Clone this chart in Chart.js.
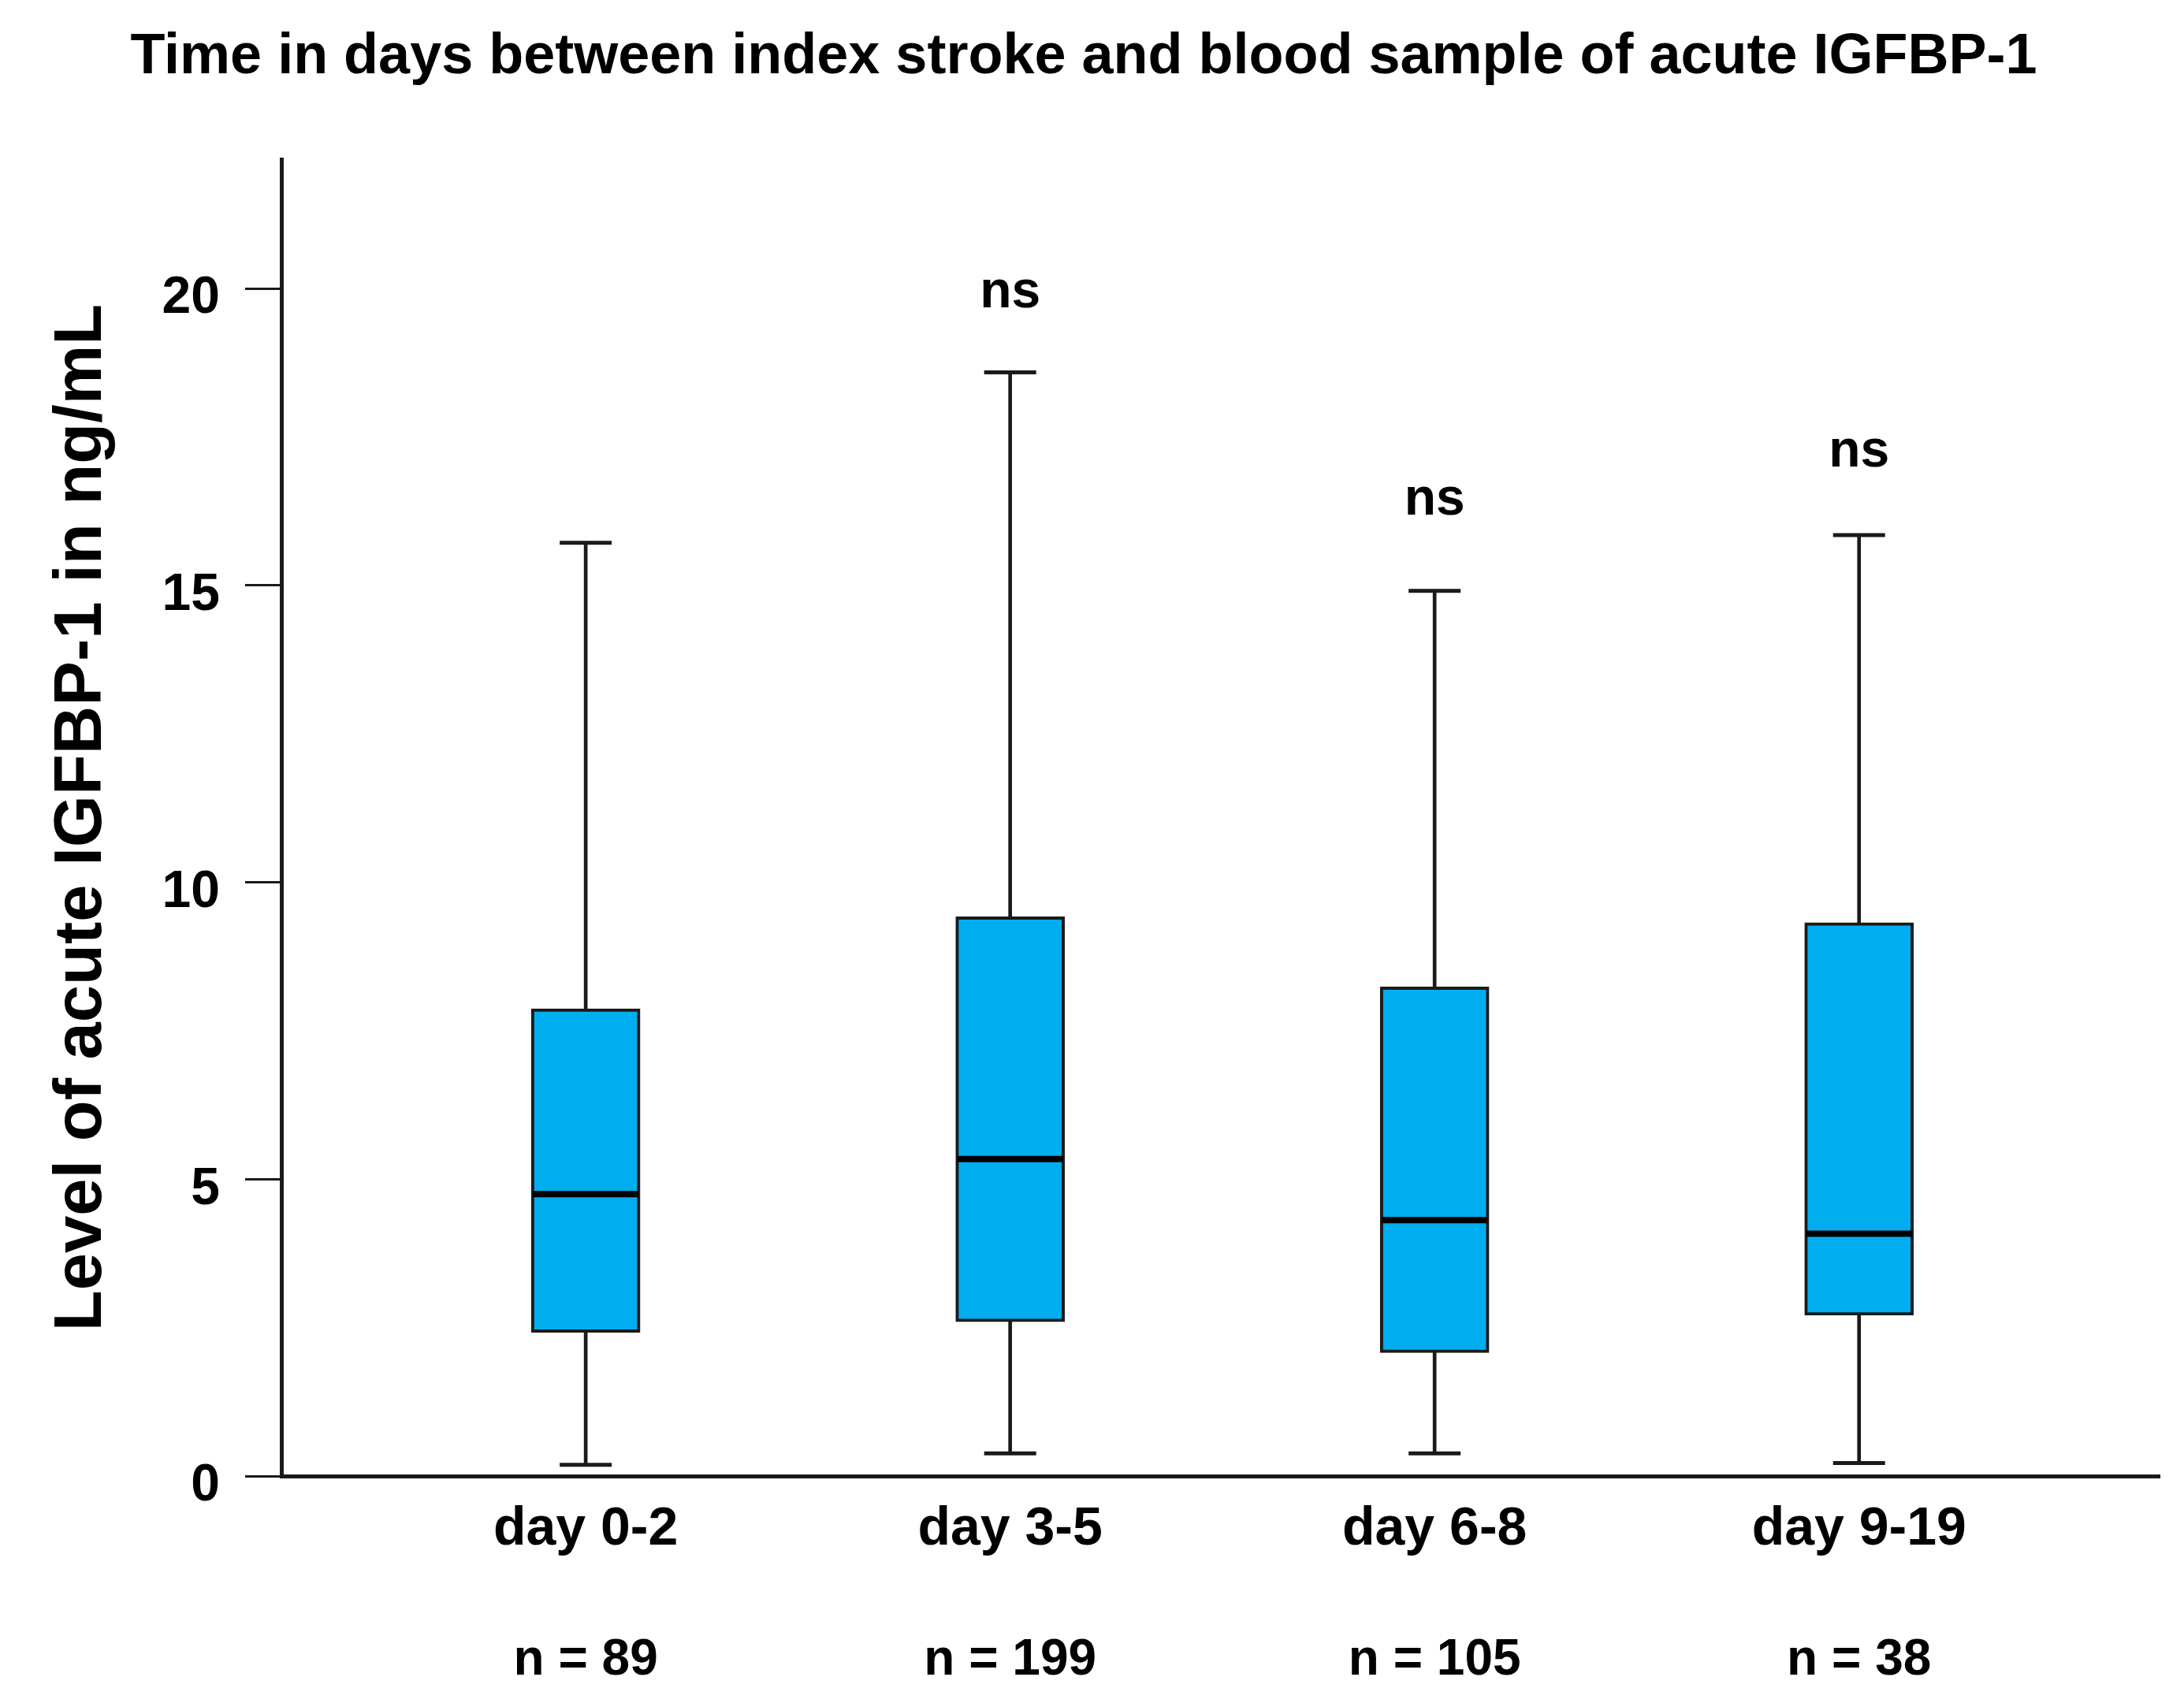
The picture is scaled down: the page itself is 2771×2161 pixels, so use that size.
<!DOCTYPE html>
<html>
<head>
<meta charset="utf-8">
<script src="https://cdn.jsdelivr.net/npm/chart.js@4.4.1/dist/chart.umd.min.js"></script>
<style>
  html, body { margin: 0; padding: 0; background: #ffffff; }
  #wrap { width: 2771px; height: 2161px; position: relative; }
</style>
</head>
<body>
<div id="wrap"><canvas id="c" width="2771" height="2161"></canvas></div>
<script>
// ---------- data ----------
const categories  = ['day 0-2', 'day 3-5', 'day 6-8', 'day 9-19'];
const sampleSizes = ['n = 89', 'n = 199', 'n = 105', 'n = 38'];
const whiskerLow  = [0.19, 0.38, 0.38, 0.22];
const q1          = [2.42, 2.60, 2.08, 2.71];
const medians     = [4.75, 5.34, 4.31, 4.08];
const q3          = [7.87, 9.42, 8.24, 9.32];
const whiskerHigh = [15.72, 18.59, 14.91, 15.85];
const nsLabels    = ['', 'ns', 'ns', 'ns'];
const nsLevels    = [null, 19.68, 16.2, 17.0];
const yTicks      = [0, 5, 10, 15, 20];
const titleText   = 'Time in days between index stroke and blood sample of acute IGFBP-1';
const yTitleText  = 'Level of acute IGFBP-1 in ng/mL';

// ---------- styling ----------
const FAM = '"Liberation Sans", Arial, Helvetica, sans-serif';
const BOX_FILL = '#00AEEF';
const INK = '#1a1a1a';

function hasFont(name) {
  const c = document.createElement('canvas').getContext('2d');
  c.font = '70px monospace';
  const a = c.measureText('nsmwNSMW').width;
  c.font = '70px "' + name + '", monospace';
  const b = c.measureText('nsmwNSMW').width;
  return Math.abs(a - b) > 0.5;
}
const narrowOK = hasFont('Liberation Sans Narrow');
const NS_FONT = narrowOK ? 'bold 72px "Liberation Sans Narrow", sans-serif' : 'bold 66px ' + FAM;

const xy = (arr) => arr.map((v, i) => ({ x: i, y: v }));
const xyRange = (a, b) => a.map((v, i) => ({ x: i, y: [v, b[i]] }));

const textPlugin = {
  id: 'texts',
  afterDraw(chart) {
    const { ctx, scales: { x, y } } = chart;
    ctx.save();
    ctx.fillStyle = '#000';
    ctx.textAlign = 'center';
    ctx.textBaseline = 'alphabetic';
    ctx.font = 'bold 72px ' + FAM;
    ctx.fillText(titleText, 1375, 93);
    ctx.font = NS_FONT;
    nsLabels.forEach((t, i) => {
      if (t) ctx.fillText(t, x.getPixelForValue(i), y.getPixelForValue(nsLevels[i]));
    });
    ctx.font = 'bold 64px ' + FAM;
    sampleSizes.forEach((t, i) => ctx.fillText(t, x.getPixelForValue(i), 2125));
    ctx.restore();
  }
};

new Chart(document.getElementById('c'), {
  type: 'bar',
  data: {
    datasets: [
      { // whisker stems
        type: 'bar', data: xyRange(whiskerLow, whiskerHigh), grouped: false,
        barThickness: 4, backgroundColor: INK, borderWidth: 0, order: 4
      },
      { // boxes
        type: 'bar', data: xyRange(q1, q3), grouped: false,
        barThickness: 138, backgroundColor: BOX_FILL, borderColor: INK,
        borderWidth: 4, borderSkipped: false, order: 3
      },
      { // medians
        type: 'line', data: xy(medians), showLine: false,
        pointStyle: 'line', pointRadius: 67, pointBorderWidth: 8,
        pointBorderColor: '#000', pointBackgroundColor: '#000', order: 1
      },
      { // lower caps
        type: 'line', data: xy(whiskerLow), showLine: false,
        pointStyle: 'line', pointRadius: 33, pointBorderWidth: 5,
        pointBorderColor: INK, order: 2
      },
      { // upper caps
        type: 'line', data: xy(whiskerHigh), showLine: false,
        pointStyle: 'line', pointRadius: 33, pointBorderWidth: 5,
        pointBorderColor: INK, order: 2
      }
    ]
  },
  options: {
    responsive: false,
    devicePixelRatio: 1,
    animation: false,
    events: [],
    layout: { autoPadding: false, padding: { top: 202, right: 31, bottom: 0, left: 0 } },
    plugins: { legend: { display: false }, tooltip: { enabled: false }, title: { display: false } },
    scales: {
      x: {
        type: 'linear', min: -0.717, max: 3.708, offset: false,
        afterBuildTicks: (s) => { s.ticks = categories.map((c, i) => ({ value: i })); },
        afterFit: (s) => { s.height = 288; s.paddingLeft = 0; s.paddingRight = 0; },
        grid: { display: false, drawTicks: false, offset: false },
        border: { display: true, width: 5, color: INK },
        ticks: {
          padding: 27, maxRotation: 0, autoSkip: false, color: '#000',
          font: { family: FAM, size: 68, weight: 'bold' },
          callback: (v) => categories[v]
        }
      },
      y: {
        type: 'linear', min: 0, max: 22.18,
        afterBuildTicks: (s) => { s.ticks = yTicks.map(v => ({ value: v })); },
        afterFit: (s) => { s.width = 357; },
        grid: { display: true, drawOnChartArea: false, drawTicks: true, tickLength: 46, tickWidth: 3, tickColor: INK, color: INK },
        border: { display: true, width: 5, color: INK },
        ticks: {
          padding: 32, labelOffset: 13, color: '#000',
          font: { family: FAM, size: 66, weight: 'bold' }
        },
        title: {
          display: true, text: yTitleText, color: '#000', padding: { top: 54, bottom: 0 },
          font: { family: FAM, size: 85, weight: 'bold' }
        }
      }
    }
  },
  plugins: [textPlugin]
});
</script>
</body>
</html>
